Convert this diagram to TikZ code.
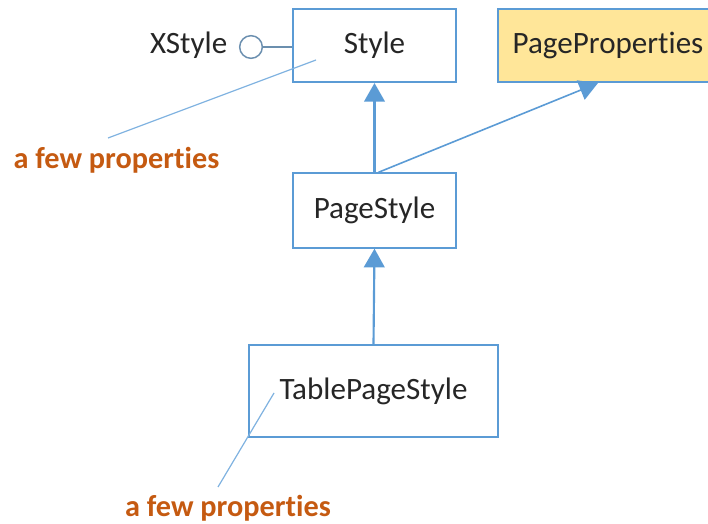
\documentclass[tikz,border=0pt]{standalone}
\usepackage{fontspec}
\setmainfont{Carlito}[Ligatures=NoCommon]
\usetikzlibrary{arrows.meta,calc,positioning}
\definecolor{LineBlue}{HTML}{5B9BD5}
\definecolor{NoteBlue}{HTML}{7FB2E0}
\definecolor{PropFill}{HTML}{FFE699}
\definecolor{NoteOrange}{HTML}{C55A11}
\definecolor{TextDark}{HTML}{262626}

\begin{document}
\begin{tikzpicture}[x=0.75pt,y=-0.75pt, line join=miter,
  classbox/.style={draw=LineBlue, line width=1.3pt, fill=white, inner sep=0pt,
    font=\fontsize{23.3}{27}\selectfont, text=TextDark},
  notetxt/.style={font=\bfseries\fontsize{22.7}{26}\selectfont, text=NoteOrange},
  inherit/.style={-{Triangle[length=14pt,width=15.5pt]}, LineBlue, line width=1.6pt},
  noteline/.style={NoteBlue, line width=0.9pt}]
\useasboundingbox (0,0) rectangle (708,524);

% classes
\node[classbox, minimum width=122pt, minimum height=55pt] (style) at (374.5,45.5) {Style};
\node[classbox, fill=PropFill, minimum width=165pt, minimum height=55pt] (pageprops) at (608,45.5) {PageProperties};
\node[classbox, minimum width=122pt, minimum height=56pt] (pagestyle) at (374.5,210.5) {PageStyle};
\node[classbox, minimum width=187pt, minimum height=69pt] (tablestyle) at (373.5,391) {TablePageStyle};

% interface lollipop
\node[circle, draw=LineBlue!55!gray, line width=1.1pt, minimum size=17pt, inner sep=0pt] (xcirc) at (251,47) {};
\node[anchor=east, font=\fontsize{23.3}{27}\selectfont, text=TextDark] (xstyle) at (232,45) {XStyle};
\draw[LineBlue!55!gray, line width=1.1pt] (xcirc.east) -- (xcirc.east -| style.west);

% generalisation arrows
\draw[inherit] (pagestyle.north) -- (style.south);
\draw[inherit] (tablestyle.north) -- (pagestyle.south);
\draw[inherit, line width=1.2pt] ($(pagestyle.north)+(4,0)$) -- ($(pageprops.south)+(-10,0)$);

% notes
\node[notetxt] (note1) at (116.5,160) {a few properties};
\coordinate (n1a) at (108,138);
\coordinate (n1b) at (316,60);
\draw[noteline] (n1a) -- (n1b);

\node[notetxt] (note2) at (228,508) {a few properties};
\coordinate (n2a) at (218,487);
\coordinate (n2b) at (274,393);
\draw[noteline] (n2a) -- (n2b);

\end{tikzpicture}
\end{document}
